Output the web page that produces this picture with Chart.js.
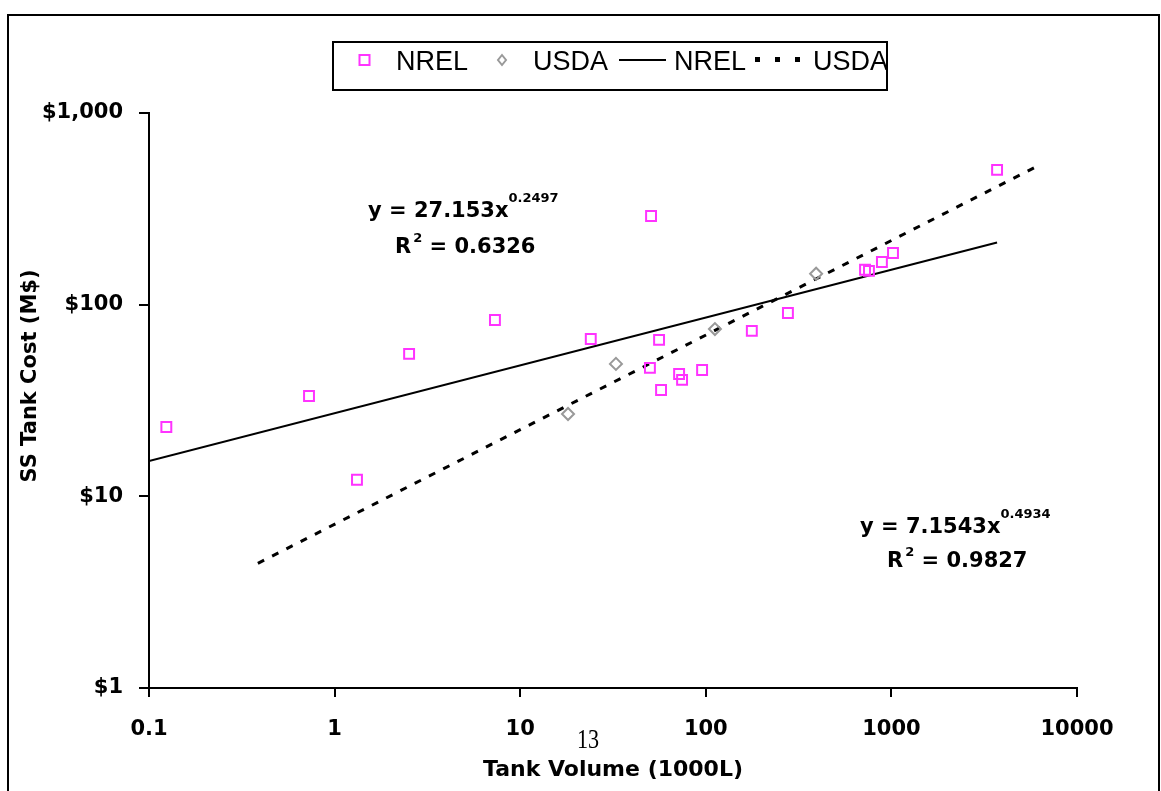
<!DOCTYPE html>
<html>
<head>
<meta charset="utf-8">
<script src="https://cdn.jsdelivr.net/npm/chart.js@4.4.1/dist/chart.umd.min.js"></script>
<style>
  html, body { margin: 0; padding: 0; background: #fff; }
  #wrap { width: 1161px; height: 791px; position: relative; }
</style>
</head>
<body>
<div id="wrap"><canvas id="c" width="1161" height="791"></canvas></div>
<script>
// ---- data ----
const nrelX = [0.124, 0.728, 1.32, 2.52, 7.31, 24.0, 50.7, 56.0, 50.0, 57.4, 71.8, 74.5, 95.5, 177, 277, 721, 757, 889, 1020, 3710];
const nrelY = [23.0, 33.4, 12.2, 55.4, 83.2, 66.2, 290, 65.5, 46.8, 35.9, 43.5, 40.5, 45.6, 73.0, 90.5, 152, 150, 167, 186, 505];
const usdaX = [18.1, 32.8, 112, 393];
const usdaY = [26.9, 49.1, 74.6, 145];
// trendline end points (power fits are straight on log-log axes)
const nrelFitX = [0.1, 3710];
const nrelFitY = [15.3, 211];
const usdaFitX = [0.386, 6300];
const usdaFitY = [4.47, 536];
// axis ticks
const xTicks = [0.1, 1, 10, 100, 1000, 10000];
const xTickLabels = ['0.1', '1', '10', '100', '1000', '10000'];
const yTicks = [1, 10, 100, 1000];
const yTickLabels = ['$1', '$10', '$100', '$1,000'];
const seriesNames = ['NREL', 'USDA', 'NREL', 'USDA'];

const pts = (xs, ys) => xs.map((x, i) => ({ x: x, y: ys[i] }));

const MAGENTA = '#ff33ff';
const GREY = '#999999';

const decorPlugin = {
  id: 'decor',
  afterDraw(chart) {
    const ctx = chart.ctx;
    ctx.save();
    // outer frame
    ctx.strokeStyle = '#000';
    ctx.lineWidth = 2;
    ctx.strokeRect(8, 15, 1151, 790);

    // legend
    ctx.strokeRect(333, 42, 554, 48);
    ctx.font = '27px "Liberation Sans", Arial, sans-serif';
    ctx.fillStyle = '#000';
    ctx.textBaseline = 'alphabetic';
    ctx.textAlign = 'left';
    ctx.strokeStyle = MAGENTA; ctx.lineWidth = 2;
    ctx.strokeRect(359.5, 55, 10, 10);
    ctx.fillText(seriesNames[0], 396, 70);
    ctx.strokeStyle = GREY;
    ctx.beginPath();
    ctx.moveTo(502, 55); ctx.lineTo(506, 60); ctx.lineTo(502, 65); ctx.lineTo(498, 60); ctx.closePath();
    ctx.stroke();
    ctx.fillText(seriesNames[1], 533, 70);
    ctx.strokeStyle = '#000'; ctx.lineWidth = 2;
    ctx.beginPath(); ctx.moveTo(619, 60); ctx.lineTo(666, 60); ctx.stroke();
    ctx.fillText(seriesNames[2], 674, 70);
    ctx.fillRect(755, 57, 5, 5);
    ctx.fillRect(775, 57, 5, 5);
    ctx.fillRect(795, 57, 5, 5);
    ctx.fillText(seriesNames[3], 813, 70);

    // equations
    const big = 'bold 21px "DejaVu Sans", sans-serif';
    const sup = 'bold 13px "DejaVu Sans", sans-serif';
    function eq(x, y, main, power) {
      ctx.font = big; ctx.fillText(main, x, y);
      const w = ctx.measureText(main).width;
      ctx.font = sup; ctx.fillText(power, x + w, y - 15);
    }
    function r2(x, y, val) {
      ctx.font = big; ctx.fillText('R', x, y);
      const w = ctx.measureText('R').width;
      ctx.font = sup; ctx.fillText('2', x + w + 2, y - 11);
      const w2 = ctx.measureText('2').width;
      ctx.font = big; ctx.fillText(' = ' + val, x + w + 2 + w2, y);
    }
    eq(368, 217, 'y = 27.153x', '0.2497');
    r2(395, 253, '0.6326');
    eq(860, 533, 'y = 7.1543x', '0.4934');
    r2(887, 567, '0.9827');

    // y axis title
    ctx.save();
    ctx.translate(31, 376);
    ctx.rotate(-Math.PI / 2);
    ctx.font = 'bold 21px "DejaVu Sans", sans-serif';
    ctx.textAlign = 'center';
    ctx.textBaseline = 'middle';
    ctx.fillText('SS Tank Cost (M$)', 0, 0);
    ctx.restore();

    // page number
    ctx.save();
    ctx.translate(577, 748);
    ctx.scale(0.82, 1);
    ctx.font = '27px "Liberation Serif", "Times New Roman", serif';
    ctx.textAlign = 'left';
    ctx.fillText('13', 0, 0);
    ctx.restore();

    ctx.restore();
  }
};

Chart.defaults.font.family = '"DejaVu Sans", sans-serif';
Chart.defaults.color = '#000';

new Chart(document.getElementById('c'), {
  type: 'scatter',
  data: {
    datasets: [
      { label: seriesNames[0], data: pts(nrelX, nrelY), pointStyle: 'rect', pointRadius: 7, pointHoverRadius: 7,
        borderColor: MAGENTA, backgroundColor: 'rgba(0,0,0,0)', pointBorderWidth: 2, showLine: false, order: 1 },
      { label: seriesNames[1], data: pts(usdaX, usdaY), pointStyle: 'rectRot', pointRadius: 6, pointHoverRadius: 6,
        borderColor: GREY, backgroundColor: 'rgba(0,0,0,0)', pointBorderWidth: 2, showLine: false, order: 2 },
      { label: seriesNames[2], data: pts(nrelFitX, nrelFitY), showLine: true, pointRadius: 0, borderColor: '#000',
        borderWidth: 2, fill: false, order: 3 },
      { label: seriesNames[3], data: pts(usdaFitX, usdaFitY), showLine: true, pointRadius: 0, borderColor: '#000',
        borderWidth: 3, borderDash: [7, 9], fill: false, order: 4 }
    ]
  },
  options: {
    responsive: false,
    animation: false,
    devicePixelRatio: 1,
    layout: { padding: { left: 0, top: 113, right: 84, bottom: 0 } },
    plugins: { legend: { display: false }, tooltip: { enabled: false } },
    scales: {
      x: {
        type: 'logarithmic', position: 'bottom', min: 0.1, max: 10000,
        afterBuildTicks: (s) => { s.ticks = xTicks.map(v => ({ value: v })); },
        afterFit: (s) => { s.height = 103; },
        ticks: {
          autoSkip: false, maxRotation: 0, padding: 20,
          font: { family: '"DejaVu Sans", sans-serif', size: 21, weight: 'bold' },
          callback: (v) => { const i = xTicks.indexOf(v); return i >= 0 ? xTickLabels[i] : ''; }
        },
        grid: { drawOnChartArea: false, drawTicks: true, tickLength: 9, color: '#000', lineWidth: 2 },
        border: { display: true, color: '#000', width: 2 },
        title: { display: true, text: 'Tank Volume (1000L)', color: '#000',
          font: { family: '"DejaVu Sans", sans-serif', size: 22, weight: 'bold' }, padding: { top: 0, bottom: 8 } }
      },
      y: {
        type: 'logarithmic', position: 'left', min: 1, max: 1000,
        afterBuildTicks: (s) => { s.ticks = yTicks.map(v => ({ value: v })); },
        afterFit: (s) => { s.width = 149; },
        ticks: {
          autoSkip: false, padding: 16,
          font: { family: '"DejaVu Sans", sans-serif', size: 21, weight: 'bold' },
          callback: (v) => { const i = yTicks.indexOf(v); return i >= 0 ? yTickLabels[i] : ''; }
        },
        grid: { drawOnChartArea: false, drawTicks: true, tickLength: 10, color: '#000', lineWidth: 2 },
        border: { display: true, color: '#000', width: 2 }
      }
    }
  },
  plugins: [decorPlugin]
});
</script>
</body>
</html>
